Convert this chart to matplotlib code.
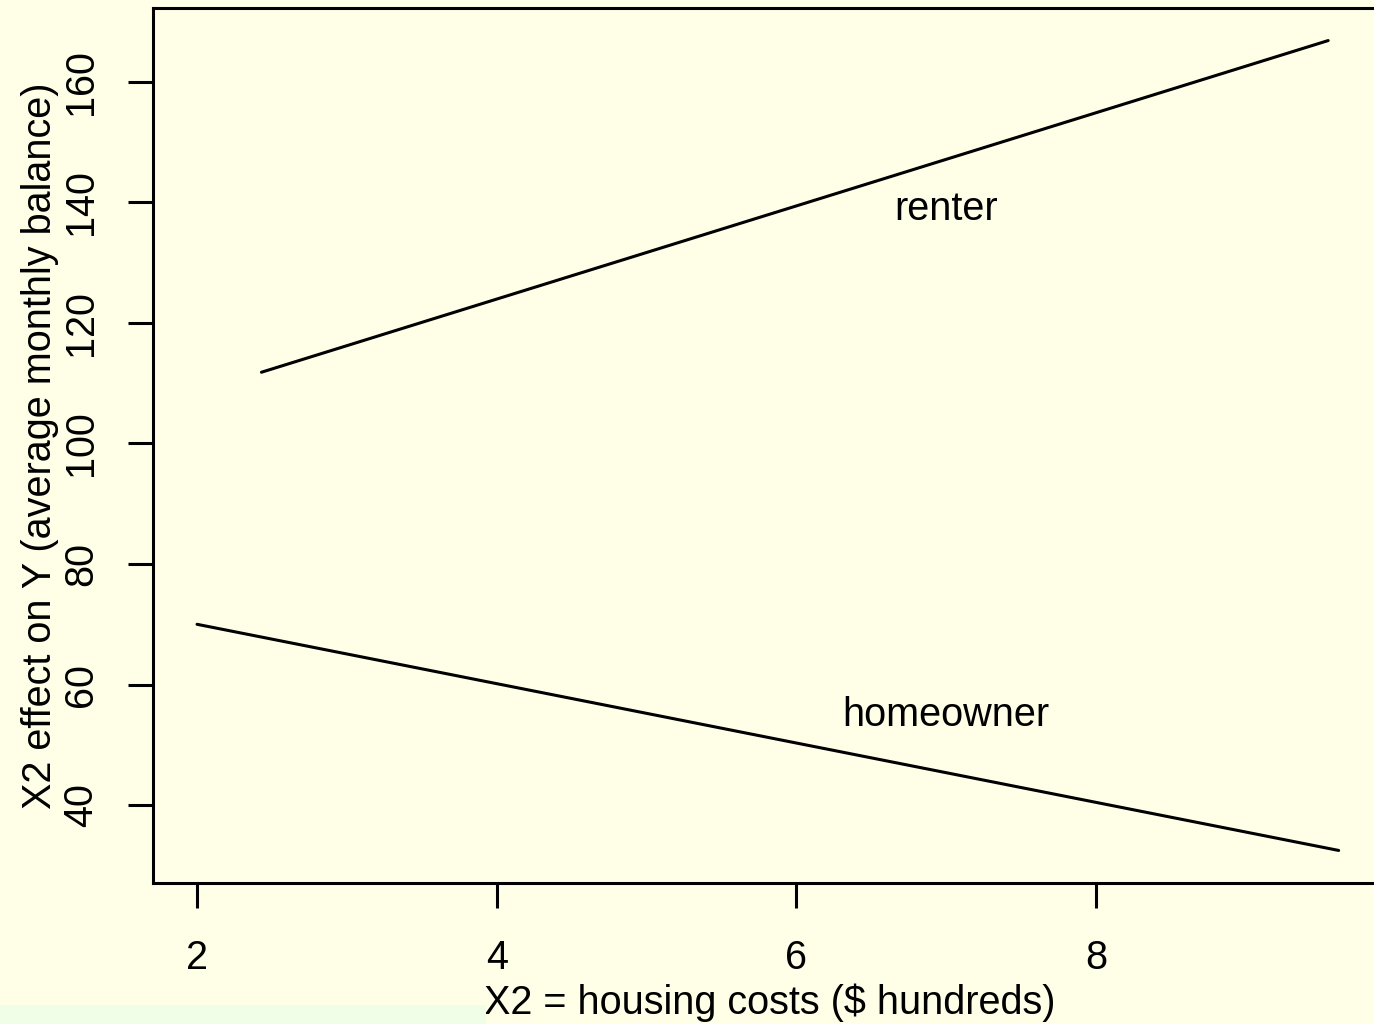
import matplotlib
matplotlib.use("Agg")
import matplotlib.pyplot as plt
from matplotlib.patches import Rectangle

plt.rcParams['font.family'] = ['Liberation Sans', 'DejaVu Sans']

# Data
renter_x = [2.43, 9.55]
renter_y = [111.8, 166.8]
home_x = [2.0, 9.62]
home_y = [70.0, 32.5]
x_ticks = [2, 4, 6, 8]
y_ticks = [40, 60, 80, 100, 120, 140, 160]
labels = ["renter", "homeowner"]
label_pos = [(7.0, 138.9), (7.0, 54.9)]

W, H = 1374, 1024
dpi = 100
bg = '#FFFFE8'
fs = 28.5
fig = plt.figure(figsize=(W / dpi, H / dpi), dpi=dpi, facecolor=bg)

# light green strip at bottom-left
fig.patches.append(Rectangle((0, 0), 486 / W, 19 / H, transform=fig.transFigure,
                             facecolor='#F0FEE8', edgecolor='none', zorder=0))

left, right, top, bottom = 153, 1386, 8, 883
ax = fig.add_axes([left / W, 1 - bottom / H, (right - left) / W, (bottom - top) / H])
ax.set_facecolor(bg)

lw = 2.2
ax.plot(renter_x, renter_y, color='black', lw=lw, solid_capstyle='round')
ax.plot(home_x, home_y, color='black', lw=lw, solid_capstyle='round')
for lab, (lx, ly) in zip(labels, label_pos):
    ax.text(lx, ly, lab, ha='center', va='center', fontsize=fs)

ax.set_xlim(1.706, 9.936)
ax.set_ylim(27.1, 172.2)

for s in ax.spines.values():
    s.set_linewidth(lw)
    s.set_color('black')

ax.set_xticks(x_ticks)
ax.set_yticks(y_ticks)
ax.tick_params(axis='both', direction='out', length=18, width=lw, labelsize=fs)
ax.tick_params(axis='x', pad=22)
ax.tick_params(axis='y', pad=20, labelrotation=90)
for t in ax.get_yticklabels():
    t.set_va('center')

ax.set_xlabel("X2 = housing costs ($ hundreds)", fontsize=fs, labelpad=5)
ax.set_ylabel("X2 effect on Y (average monthly balance)", fontsize=fs, labelpad=2)

fig.savefig("out.png", dpi=dpi, facecolor=bg)
